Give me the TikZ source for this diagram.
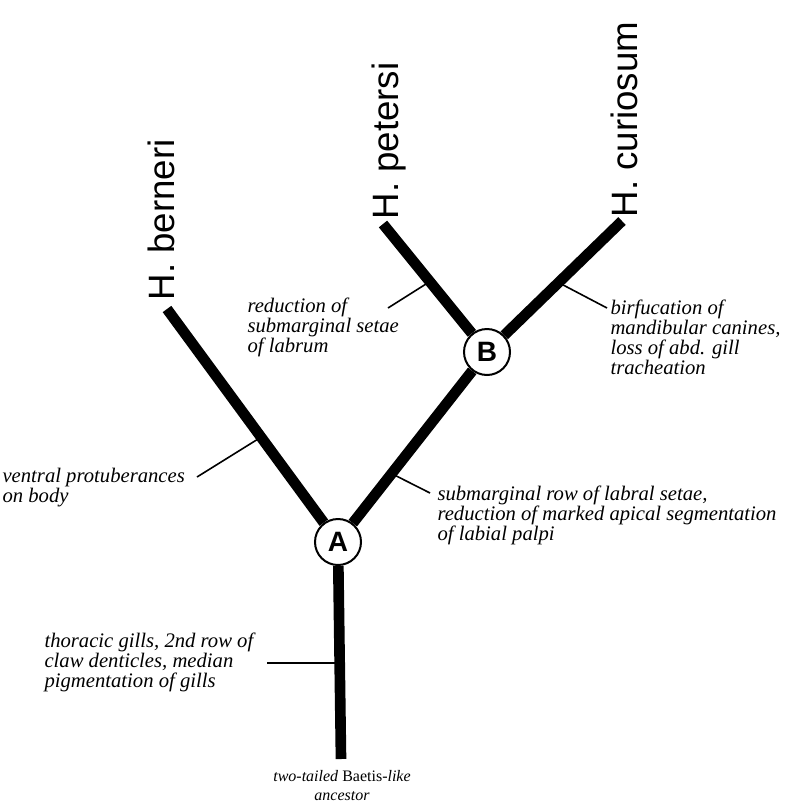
\documentclass[tikz,border=0pt]{standalone}
\usepackage{fontspec}
\setmainfont{Liberation Serif}
\setsansfont{Liberation Sans}
\usetikzlibrary{positioning,calc}
\tikzset{every picture/.style={line width=0.8pt}}

\begin{document}
\begin{tikzpicture}[x=0.75pt, y=-0.75pt,
    branch/.style={line width=8pt},
    tick/.style={line width=1.2pt},
    fork/.style={draw, circle, line width=1.5pt, fill=white, minimum size=34.5pt, inner sep=0pt,
        font=\sffamily\bfseries\fontsize{21}{21}\selectfont},
    taxon/.style={rotate=90, anchor=base west, inner sep=0pt, font=\sffamily\fontsize{27.5}{27.5}\selectfont},
    trait/.style={align=left, anchor=west, inner sep=0pt, font=\itshape\fontsize{15.5}{15}\selectfont}]
    \useasboundingbox (0,0) rectangle (790,804);

    % Forks
    \node[fork] (A) at (338,542) {A};
    \node[fork] (B) at (487,352) {B};

    % Tips and taxa
    \coordinate (root) at (341,759);
    \coordinate (tipBer) at (167,309);
    \coordinate (tipPet) at (383,224);
    \coordinate (tipCur) at (622,221);
    \node[taxon] (berneri) at (174,301) {H. berneri};
    \node[taxon] (petersi) at (398,220) {H. petersi};
    \node[taxon] (curiosum) at (637,218) {H. curiosum};

    % Branches
    \draw[branch] (root) -- (A);
    \draw[branch] (A) -- (tipBer);
    \draw[branch] (A) -- (B);
    \draw[branch] (B) -- (tipPet);
    \draw[branch] (B) -- (tipCur);

    % Character labels
    \node[trait] (labrum) at (247,327) {reduction of\\submarginal setae\\of labrum};
    \node[trait] (canines) at (610,337) {birfucation of\\mandibular canines,\\loss of abd. gill\\tracheation};
    \node[trait] (ventral) at (2,488) {ventral protuberances\\on body};
    \node[trait] (setae) at (437,515) {submarginal row of labral setae,\\reduction of marked apical segmentation\\of labial palpi};
    \node[trait] (gills) at (44,662) {thoracic gills, 2nd row of\\claw denticles, median\\pigmentation of gills};
    \node[trait, anchor=north, align=center, font=\itshape\fontsize{12}{14}\selectfont] (ancestor) at (342,770)
        {two-tailed \textup{Baetis-}like\\ancestor};

    % Ticks
    \coordinate (tkGills) at (267,663);
    \coordinate (tkVentral) at (197,477);
    \coordinate (tkSetae) at (430,493);
    \coordinate (tkLabrum) at (388,308);
    \coordinate (tkCanines) at (607,308);
    \draw[tick] (root |- tkGills) -- (tkGills);
    \draw[tick] ($(A)!0.45!(tipBer)$) -- (tkVentral);
    \draw[tick] ($(A)!0.36!(B)$) -- (tkSetae);
    \draw[tick] ($(B)!0.55!(tipPet)$) -- (tkLabrum);
    \draw[tick] ($(B)!0.53!(tipCur)$) -- (tkCanines);
\end{tikzpicture}
\end{document}
